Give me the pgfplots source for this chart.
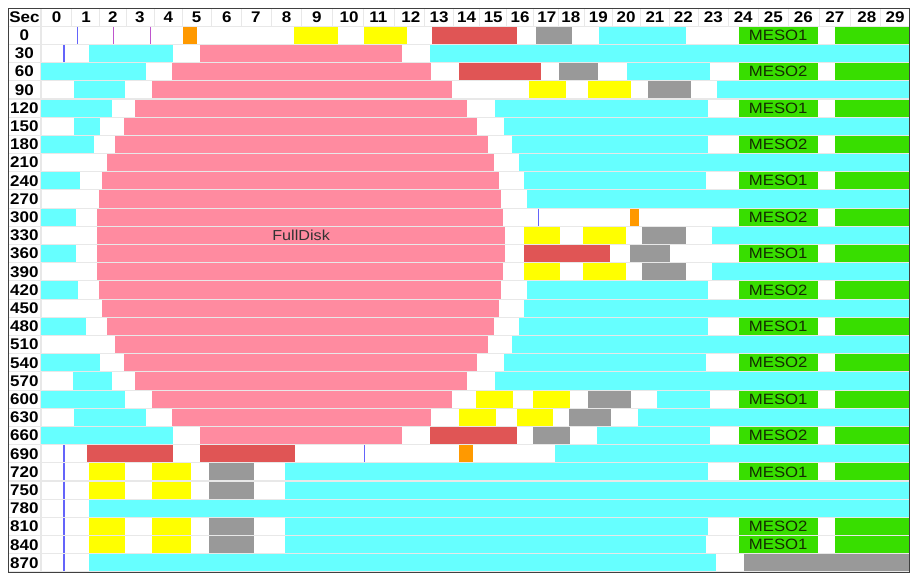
\documentclass[border=0pt]{standalone}
\usepackage{graphicx}
\usepackage{pgfplots}
\pgfplotsset{compat=1.18}
\usepackage{fontspec}
\setmainfont{Liberation Sans}
\definecolor{cC}{RGB}{102,255,255}
\definecolor{cP}{RGB}{255,139,160}
\definecolor{cR}{RGB}{224,85,85}
\definecolor{cY}{RGB}{255,255,0}
\definecolor{cG}{RGB}{153,153,153}
\definecolor{cO}{RGB}{255,153,0}
\definecolor{cM}{RGB}{56,222,0}
\definecolor{lA}{RGB}{100,100,250}
\definecolor{lB}{RGB}{190,85,205}
\definecolor{bgG}{RGB}{232,232,232}
\definecolor{mesoT}{RGB}{20,45,0}
\newcommand\lab{\fontsize{15.5}{16}\selectfont\bfseries}
\newcommand\sx[1]{\scalebox{1.1}[1]{\textbf{#1}}}
\newcommand\tx[1]{\scalebox{1.12}[1]{#1}}
\newcommand\seg[4]{%
  \pgfmathsetmacro\ya{#3+0.03}\pgfmathsetmacro\yb{#3+0.97}%
  \edef\tmp{\noexpand\addplot[fill=#4,draw=none,forget plot] coordinates {(#1,\ya) (#2,\ya) (#2,\yb) (#1,\yb)};}\tmp}
\newcommand\vl[4]{%
  \pgfmathsetmacro\ya{#2+0.03}\pgfmathsetmacro\yb{#2+0.97}%
  \edef\tmp{\noexpand\addplot[draw=#3,line width=#4,forget plot] coordinates {(#1,\ya) (#1,\yb)};}\tmp}
\newcommand\mesoA[1]{\seg{24.11}{26.85}{#1}{cM}\seg{27.44}{30}{#1}{cM}}
\begin{document}
\begin{tikzpicture}
\begin{axis}[name=ax,
  scale only axis, width=901bp, height=564bp,
  xmin=-1.14, xmax=30, ymin=-1, ymax=30, y dir=reverse,
  axis on top,
  axis background/.style={fill=bgG},
  axis line style={draw=black!75, line width=1bp},
  major tick length=0pt, tick style={draw=none},
  xticklabel pos=upper,
  xtick={0.54,1.56,2.48,3.42,4.40,5.38,6.42,7.43,8.49,9.53,10.65,11.66,12.78,13.76,14.71,15.63,16.56,17.48,18.31,19.26,20.22,21.22,22.20,23.24,24.27,25.31,26.35,27.44,28.54,29.52},
  xticklabels={\sx{0},\sx{1},\sx{2},\sx{3},\sx{4},\sx{5},\sx{6},\sx{7},\sx{8},\sx{9},\sx{10},\sx{11},\sx{12},\sx{13},\sx{14},\sx{15},\sx{16},\sx{17},\sx{18},\sx{19},\sx{20},\sx{21},\sx{22},\sx{23},\sx{24},\sx{25},\sx{26},\sx{27},\sx{28},\sx{29}},
  xticklabel style={anchor=center, yshift=-9.1bp, font=\lab, inner sep=0pt},
  ytick={-0.5,0.5,1.5,2.5,3.5,4.5,5.5,6.5,7.5,8.5,9.5,10.5,11.5,12.5,13.5,14.5,15.5,16.5,17.5,18.5,19.5,20.5,21.5,22.5,23.5,24.5,25.5,26.5,27.5,28.5,29.5},
  yticklabels={\sx{Sec},\sx{0},\sx{30},\sx{60},\sx{90},\sx{120},\sx{150},\sx{180},\sx{210},\sx{240},\sx{270},\sx{300},\sx{330},\sx{360},\sx{390},\sx{420},\sx{450},\sx{480},\sx{510},\sx{540},\sx{570},\sx{600},\sx{630},\sx{660},\sx{690},\sx{720},\sx{750},\sx{780},\sx{810},\sx{840},\sx{870}},
  yticklabel style={anchor=center, xshift=16.4bp, font=\lab, inner sep=0pt},
]
% white cells
\pgfplotsinvokeforeach{-1,...,29}{\seg{0.02}{30}{#1}{white}\seg{-1.12}{-0.02}{#1}{white}}
% header separators
\pgfplotsinvokeforeach{1.05,2.02,2.95,3.91,4.89,5.90,6.93,7.96,9.01,10.09,11.16,12.22,13.27,14.24,15.17,16.10,17.02,17.90,18.79,19.74,20.72,21.71,22.72,23.76,24.79,25.83,26.90,27.99,29.03}{\vl{#1}{-1}{bgG}{1bp}}
% row 0
\vl{1.26}{0}{lA}{1bp}\vl{2.50}{0}{lB}{1bp}\vl{3.78}{0}{lB}{1bp}
\seg{4.92}{5.38}{0}{cO}\seg{8.75}{10.25}{0}{cY}\seg{11.15}{12.66}{0}{cY}\seg{13.52}{16.46}{0}{cR}\seg{17.10}{18.36}{0}{cG}\seg{19.30}{22.28}{0}{cC}\mesoA{0}
% row 30
\vl{0.81}{1}{lA}{2bp}\seg{1.66}{4.57}{1}{cC}\seg{5.51}{12.48}{1}{cP}\seg{13.44}{30}{1}{cC}
% row 60
\seg{0}{3.63}{2}{cC}\seg{4.54}{13.48}{2}{cP}\seg{14.46}{17.28}{2}{cR}\seg{17.90}{19.26}{2}{cG}\seg{20.26}{23.12}{2}{cC}\mesoA{2}
% row 90
\seg{1.13}{2.90}{3}{cC}\seg{3.85}{14.22}{3}{cP}\seg{16.86}{18.14}{3}{cY}\seg{18.91}{20.39}{3}{cY}\seg{20.97}{22.48}{3}{cG}\seg{23.36}{30}{3}{cC}
% row 120
\seg{0}{2.44}{4}{cC}\seg{3.26}{14.73}{4}{cP}\seg{15.69}{23.06}{4}{cC}\mesoA{4}
% row 150
\seg{1.13}{2.05}{5}{cC}\seg{2.87}{15.08}{5}{cP}\seg{15.99}{30}{5}{cC}
% row 180
\seg{0}{1.82}{6}{cC}\seg{2.56}{15.46}{6}{cP}\seg{16.27}{23.06}{6}{cC}\mesoA{6}
% row 210
\seg{2.28}{15.67}{7}{cP}\seg{16.51}{30}{7}{cC}
% row 240
\seg{0}{1.35}{8}{cC}\seg{2.10}{15.82}{8}{cP}\seg{16.69}{22.98}{8}{cC}\mesoA{8}
% row 270
\seg{2.00}{15.90}{9}{cP}\seg{16.79}{30}{9}{cC}
% row 300
\seg{0}{1.20}{10}{cC}\seg{1.94}{15.97}{10}{cP}\vl{17.19}{10}{lA}{1bp}\seg{20.36}{20.67}{10}{cO}\mesoA{10}
% row 330
\seg{1.94}{16.04}{11}{cP}\seg{16.69}{17.94}{11}{cY}\seg{18.72}{20.22}{11}{cY}\seg{20.78}{22.28}{11}{cG}\seg{23.18}{30}{11}{cC}
% row 360
\seg{0}{1.20}{12}{cC}\seg{1.94}{16.04}{12}{cP}\seg{16.70}{19.68}{12}{cR}\seg{20.36}{21.74}{12}{cG}\mesoA{12}
% row 390
\seg{1.94}{15.97}{13}{cP}\seg{16.69}{17.94}{13}{cY}\seg{18.72}{20.22}{13}{cY}\seg{20.78}{22.28}{13}{cG}\seg{23.18}{30}{13}{cC}
% row 420
\seg{0}{1.29}{14}{cC}\seg{2.01}{15.89}{14}{cP}\seg{16.79}{23.06}{14}{cC}\mesoA{14}
% row 450
\seg{2.10}{15.82}{15}{cP}\seg{16.69}{30}{15}{cC}
% row 480
\seg{0}{1.54}{16}{cC}\seg{2.28}{15.67}{16}{cP}\seg{16.51}{23.06}{16}{cC}\mesoA{16}
% row 510
\seg{2.56}{15.46}{17}{cP}\seg{16.27}{30}{17}{cC}
% row 540
\seg{0}{2.05}{18}{cC}\seg{2.87}{15.07}{18}{cP}\seg{15.99}{22.98}{18}{cC}\mesoA{18}
% row 570
\seg{1.12}{2.44}{19}{cC}\seg{3.25}{14.73}{19}{cP}\seg{15.69}{30}{19}{cC}
% row 600
\seg{0}{2.90}{20}{cC}\seg{3.85}{14.22}{20}{cP}\seg{15.03}{16.32}{20}{cY}\seg{17.02}{18.28}{20}{cY}\seg{18.92}{20.39}{20}{cG}\seg{21.28}{23.12}{20}{cC}\mesoA{20}
% row 630
\seg{1.13}{3.63}{21}{cC}\seg{4.54}{13.48}{21}{cP}\seg{14.46}{15.73}{21}{cY}\seg{16.44}{17.71}{21}{cY}\seg{18.26}{19.69}{21}{cG}\seg{20.62}{30}{21}{cC}
% row 660
\seg{0}{4.57}{22}{cC}\seg{5.51}{12.48}{22}{cP}\seg{13.44}{16.46}{22}{cR}\seg{17.02}{18.28}{22}{cG}\seg{19.22}{23.12}{22}{cC}\mesoA{22}
% row 690
\vl{0.81}{23}{lA}{2bp}\seg{1.60}{4.57}{23}{cR}\seg{5.51}{8.79}{23}{cR}\vl{11.17}{23}{lA}{1bp}\seg{14.46}{14.92}{23}{cO}\seg{17.75}{30}{23}{cC}
% row 720
\vl{0.81}{24}{lA}{2bp}\seg{1.66}{2.90}{24}{cY}\seg{3.84}{5.19}{24}{cY}\seg{5.82}{7.36}{24}{cG}\seg{8.44}{23.06}{24}{cC}\mesoA{24}
% row 750
\vl{0.81}{25}{lA}{2bp}\seg{1.66}{2.90}{25}{cY}\seg{3.84}{5.19}{25}{cY}\seg{5.82}{7.36}{25}{cG}\seg{8.44}{30}{25}{cC}
% row 780
\vl{0.81}{26}{lA}{2bp}\seg{1.66}{30}{26}{cC}
% row 810
\vl{0.81}{27}{lA}{2bp}\seg{1.66}{2.90}{27}{cY}\seg{3.84}{5.19}{27}{cY}\seg{5.82}{7.36}{27}{cG}\seg{8.44}{23.06}{27}{cC}\mesoA{27}
% row 840
\vl{0.81}{28}{lA}{2bp}\seg{1.66}{2.90}{28}{cY}\seg{3.84}{5.19}{28}{cY}\seg{5.82}{7.36}{28}{cG}\seg{8.44}{22.98}{28}{cC}\mesoA{28}
% row 870
\vl{0.81}{29}{lA}{2bp}\seg{1.66}{23.33}{29}{cC}\seg{24.30}{30}{29}{cG}
% labels
\node[font=\fontsize{14.5}{15}\selectfont, text=black!80] at (axis cs:8.99,11.5) {\tx{FullDisk}};
\begin{scope}[every node/.style={font=\fontsize{15}{16}\selectfont, text=mesoT}]
\node at (axis cs:25.48,0.5) {\tx{MESO1}};
\node at (axis cs:25.48,2.5) {\tx{MESO2}};
\node at (axis cs:25.48,4.5) {\tx{MESO1}};
\node at (axis cs:25.48,6.5) {\tx{MESO2}};
\node at (axis cs:25.48,8.5) {\tx{MESO1}};
\node at (axis cs:25.48,10.5) {\tx{MESO2}};
\node at (axis cs:25.48,12.5) {\tx{MESO1}};
\node at (axis cs:25.48,14.5) {\tx{MESO2}};
\node at (axis cs:25.48,16.5) {\tx{MESO1}};
\node at (axis cs:25.48,18.5) {\tx{MESO2}};
\node at (axis cs:25.48,20.5) {\tx{MESO1}};
\node at (axis cs:25.48,22.5) {\tx{MESO2}};
\node at (axis cs:25.48,24.5) {\tx{MESO1}};
\node at (axis cs:25.48,27.5) {\tx{MESO2}};
\node at (axis cs:25.48,28.5) {\tx{MESO1}};
\end{scope}
\end{axis}
\pgfresetboundingbox
\path ([shift={(-8bp,-1bp)}]ax.south west) rectangle ([shift={(1bp,8bp)}]ax.north east);
\end{tikzpicture}
\end{document}
